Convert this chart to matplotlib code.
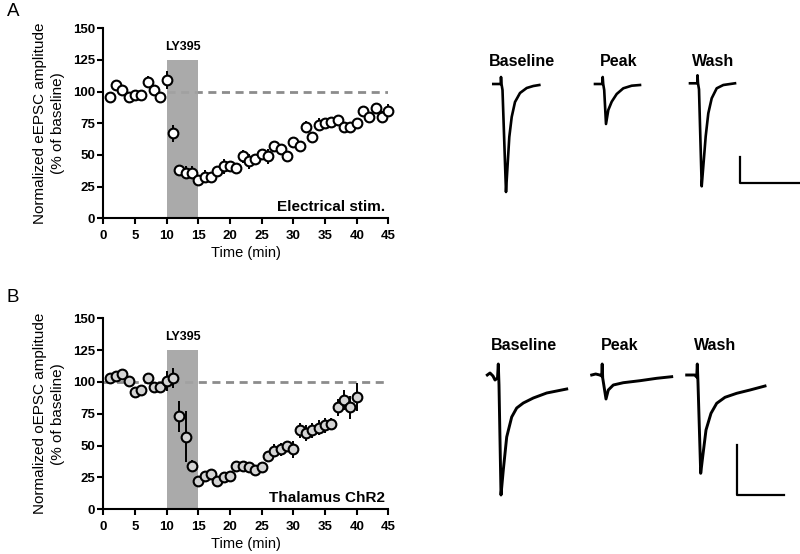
import numpy as np
import matplotlib
matplotlib.use('Agg')
import matplotlib.pyplot as plt

plt.rcParams['font.family'] = ['Liberation Sans', 'DejaVu Sans']

# time course: minute, normalized amplitude (% of baseline), s.e.m.
time_a = np.arange(1, 46)
amp_a = [96, 105, 101, 96, 97, 97, 108, 101, 96, 109, 67, 38, 36, 36, 30,
         33, 33, 37, 41, 41, 40, 49, 45, 47, 51, 49, 57, 55, 49, 60,
         57, 72, 64, 74, 75, 76, 78, 72, 72, 75, 85, 80, 87, 80, 85]
err_a = [2, 3, 3, 2, 2, 2, 4, 3, 3, 7, 7, 3, 5, 5, 3,
         5, 3, 4, 6, 4, 3, 5, 6, 3, 4, 6, 4, 3, 3, 3,
         3, 5, 3, 5, 4, 3, 3, 3, 3, 3, 4, 3, 3, 5, 5]

time_b = np.arange(1, 41)
amp_b = [103, 105, 106, 101, 92, 94, 103, 96, 96, 101, 103, 73, 57, 34, 22,
         26, 28, 22, 25, 26, 34, 34, 33, 31, 33, 42, 46, 47, 50, 47,
         62, 60, 62, 64, 66, 67, 80, 86, 80, 88]
err_b = [2, 2, 3, 3, 3, 3, 3, 4, 3, 8, 8, 12, 20, 5, 3,
         3, 3, 3, 3, 3, 3, 3, 3, 4, 3, 4, 5, 5, 4, 7,
         6, 6, 6, 6, 6, 5, 7, 8, 9, 11]

drug_on, drug_off = 10, 15
drug_name = 'LY395'

# example traces (time, current; arbitrary units)
a_base_t = [0, 7.4, 7.7, 8.2, 9.2, 12.7, 14, 16, 18.4, 21.7, 26.7, 33.4, 40, 46]
a_base_i = [0, 0, 7, 0, -6, -108, -86, -53, -33, -18, -9, -4, -2, -1]
a_peak_t = [0, 7.5, 7.7, 8.2, 9.2, 11, 13.3, 16.7, 21.7, 28.3, 36.7, 45]
a_peak_i = [0, 0, 7, 0, -6, -40, -26, -17.7, -10, -4.3, -1.7, -1]
a_wash_t = [0, 7.3, 7.5, 8, 9, 11.7, 13.3, 15.7, 18.3, 21.7, 26.7, 33.3, 45]
a_wash_i = [0, 0, 8, 0, -6, -103, -83, -53, -30, -15, -5, -1.7, 0]

b_base_t = [0, 2.7, 5.7, 7.7, 10.2, 11, 11.7, 13.7, 16, 19.4, 24.4, 29.4, 36, 46, 59.4, 69.4, 79.4]
b_base_i = [0, 2, -1, -5, -3, 11, -10, -120, -95, -62, -42, -33, -28, -23, -18, -16, -14]
b_peak_t = [0, 4, 8, 10, 10.5, 11, 14.3, 16.6, 21.6, 31.6, 48.3, 65, 80]
b_peak_i = [0, 1, 0, -1, 11, -3, -24, -15, -10, -7.7, -5.7, -3.3, -1.7]
b_wash_t = [0, 8, 10, 10.6, 11.3, 14, 16, 19.3, 24.3, 30, 38.3, 50, 63.3, 78.3]
b_wash_i = [0, 0, -2, 11, -8, -98.3, -81.7, -55, -38.3, -28.3, -22.3, -18.3, -15, -11]

a_scalebar = (60, 26)
b_scalebar = (47, 50)
trace_titles = ['Baseline', 'Peak', 'Wash']

W, H = 800, 554
fig = plt.figure(figsize=(8, 5.54), dpi=100)


def px_axes(x0, y0, x1, y1):
    # pixel box (top-left origin) -> axes
    return fig.add_axes([x0 / W, 1 - y1 / H, (x1 - x0) / W, (y1 - y0) / H])


def time_course(ax, t, amp, err, face, ylabel, tag, dash_from):
    ax.plot([dash_from, 45], [100, 100], color='#8c8c8c', lw=2,
            dashes=(2.9, 2.0), zorder=1)
    ax.fill_between([drug_on, drug_off], 0, 125, color='#a3a3a3', lw=0,
                    alpha=0.92, zorder=2)
    ax.text((drug_on + drug_off) / 2, 135, drug_name, ha='center',
            va='center', fontsize=9, fontweight='bold')
    ax.errorbar(t, amp, yerr=err, fmt='o', mfc=face, mec='k', mew=1.5,
                ms=7, ecolor='k', elinewidth=1.4, capsize=0, clip_on=False,
                zorder=3)
    ax.set_xlim(0, 45)
    ax.set_ylim(0, 150)
    ax.set_xticks(range(0, 46, 5))
    ax.set_yticks(range(0, 151, 25))
    for s in ['top', 'right']:
        ax.spines[s].set_visible(False)
    for s in ['left', 'bottom']:
        ax.spines[s].set_linewidth(1.5)
    ax.tick_params(axis='both', width=1.5, length=4, labelsize=9.5)
    ax.tick_params(axis='x', pad=4.5)
    ax.tick_params(axis='y', pad=2)
    plt.setp(ax.get_xticklabels() + ax.get_yticklabels(), fontweight='bold')
    ax.set_xlabel('Time (min)', fontsize=10.5, labelpad=3)
    ax.set_ylabel(ylabel, fontsize=11, linespacing=1.35, labelpad=6)
    ax.text(44.5, 5.5, tag, ha='right', va='baseline', fontsize=11,
            fontweight='bold')


def traces(ax, data, origins, bar, bar_origin, lw):
    for (t, i), (x0, y0) in zip(data, origins):
        ax.plot(np.array(t) + x0, np.array(i) + y0, color='k', lw=lw,
                solid_joinstyle='round', clip_on=False)
    bx, by = bar_origin
    ax.plot([bx, bx, bx + bar[0]], [by + bar[1], by, by], color='k', lw=1.6,
            clip_on=False)
    ax.axis('off')


ax_a = px_axes(103.3, 28.3, 388.4, 218.3)
time_course(ax_a, time_a, amp_a, err_a, 'white',
            'Normalized eEPSC amplitude\n(% of baseline)', 'Electrical stim.', 10)

ax_b = px_axes(103.3, 318.3, 388.4, 509.3)
time_course(ax_b, time_b, amp_b, err_b, '#d4d4d4',
            'Normalized oEPSC amplitude\n(% of baseline)', 'Thalamus ChR2', 0)

tr_a = px_axes(480, 55, 800, 200)
tr_a.set_xlim(0, 320)
tr_a.set_ylim(0, 145)
traces(tr_a, [(a_base_t, a_base_i), (a_peak_t, a_peak_i), (a_wash_t, a_wash_i)],
       [(13.3, 116), (115, 116), (210, 116.7)], a_scalebar, (260, 17), 1.9)

tr_b = px_axes(480, 345, 800, 505)
tr_b.set_xlim(0, 320)
tr_b.set_ylim(0, 160)
traces(tr_b, [(b_base_t, b_base_i), (b_peak_t, b_peak_i), (b_wash_t, b_wash_i)],
       [(7.3, 130), (111.7, 130), (206.7, 130)], b_scalebar, (257.3, 10), 2.1)

for x, y, s in zip([522, 619, 713.5], [61] * 3, trace_titles):
    fig.text(x / W, 1 - y / H, s, ha='center', va='center', fontsize=11.5,
             fontweight='bold')
for x, y, s in zip([524, 620, 714.7], [346] * 3, trace_titles):
    fig.text(x / W, 1 - y / H, s, ha='center', va='center', fontsize=11.5,
             fontweight='bold')

fig.text(7 / W, 1 - 12 / H, 'A', ha='left', va='center', fontsize=13.5)
fig.text(7 / W, 1 - 298 / H, 'B', ha='left', va='center', fontsize=13.5)

fig.savefig('out.png', dpi=100)
